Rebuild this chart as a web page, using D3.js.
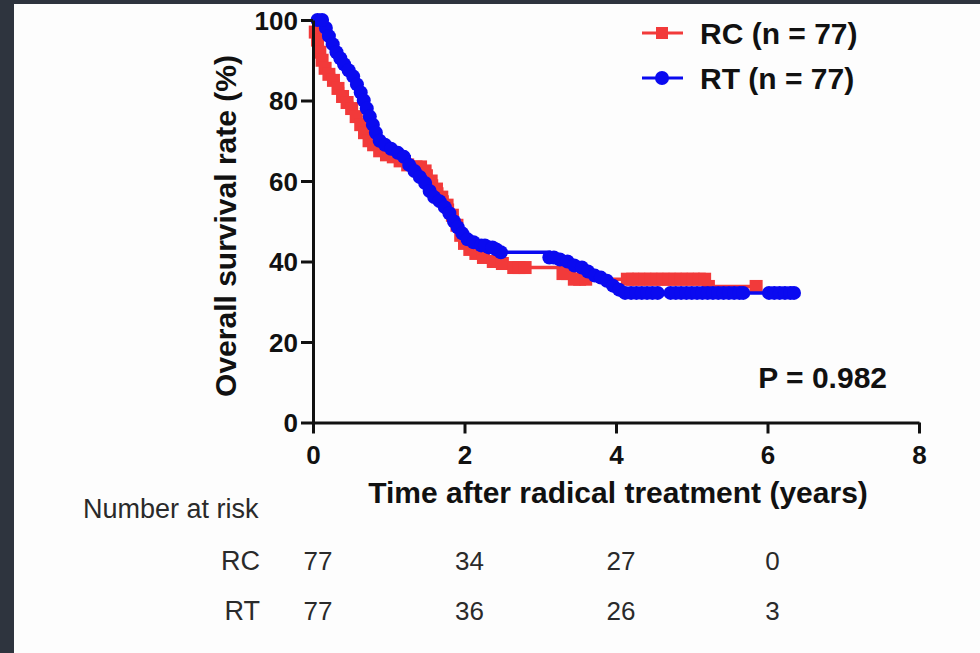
<!DOCTYPE html>
<html>
<head>
<meta charset="utf-8">
<script src="https://cdn.jsdelivr.net/npm/d3@7"></script>
<style>
  html, body { margin: 0; padding: 0; background: #2e343e; }
  svg { display: block; }
  .axis path, .axis line { stroke: #111; stroke-width: 3; }
  .axis text { font-family: 'Liberation Sans', Arial, sans-serif; font-weight: bold; font-size: 26px; fill: #111; }
</style>
</head>
<body>
<div class="chart"></div>
<script>
// Kaplan-Meier steps: [years, survival %]
const rcSteps = [
  [0, 100], [0.03, 97], [0.06, 95], [0.09, 92], [0.12, 90], [0.16, 88], [0.21, 86.5],
  [0.27, 85], [0.33, 83], [0.39, 81], [0.45, 79.5], [0.51, 78], [0.57, 76], [0.63, 74],
  [0.68, 72], [0.74, 70], [0.8, 69], [0.88, 67.5], [0.97, 66.5], [1.06, 66], [1.15, 65],
  [1.25, 64], [1.36, 63.5], [1.48, 62.5], [1.56, 60], [1.63, 58], [1.7, 56], [1.77, 54],
  [1.84, 51.5], [1.9, 49], [1.95, 46.5], [2.0, 44.5], [2.07, 43], [2.15, 42], [2.25, 41],
  [2.38, 40], [2.5, 39.5], [2.65, 38.5], [3.3, 37], [3.45, 35.6], [5.22, 33.8]
];
const rcEnd = 5.85;
const rcCensor = [1.42, 2.72, 2.8, 3.36, 3.52, 3.6, 4.15, 4.22, 4.3, 4.38, 4.46, 4.54, 4.62, 4.7,
  4.78, 4.86, 4.94, 5.02, 5.1, 5.17, 5.85];

const rtSteps = [
  [0, 100], [0.17, 98], [0.21, 96], [0.26, 94], [0.31, 92], [0.36, 90.5], [0.41, 89],
  [0.47, 87.5], [0.53, 86], [0.58, 84], [0.63, 82], [0.67, 80], [0.71, 78], [0.75, 76],
  [0.79, 74], [0.83, 72], [0.88, 70], [0.95, 69], [1.03, 68], [1.12, 67], [1.2, 66],
  [1.27, 64], [1.34, 62.5], [1.41, 61], [1.48, 59.5], [1.54, 57.5], [1.6, 56], [1.67, 55],
  [1.74, 53.5], [1.8, 52], [1.86, 50], [1.91, 48.5], [1.97, 47], [2.04, 45.5], [2.12, 44.8],
  [2.22, 44], [2.32, 43.5], [2.42, 43], [2.48, 42.3], [3.12, 41], [3.26, 40.5], [3.36, 40],
  [3.45, 39], [3.55, 38.5], [3.63, 37.5], [3.72, 36.5], [3.8, 36], [3.88, 35.2], [3.96, 34],
  [4.04, 33], [4.12, 32.2]
];
const rtEnd = 6.37;
const rtCensor = [0.06, 0.12, 2.27, 2.37, 3.18, 4.2, 4.27, 4.34, 4.41, 4.48, 4.55, 4.72, 4.79,
  4.86, 4.93, 5.0, 5.07, 5.14, 5.21, 5.28, 5.35, 5.42, 5.49, 5.56, 5.63, 5.68, 6.02, 6.09,
  6.16, 6.23, 6.3, 6.35];

const yTicks = [0, 20, 40, 60, 80, 100];
const xTicks = [0, 2, 4, 6, 8];
const riskTimes = [0, 2, 4, 6];
const riskRows = [
  { name: 'RC', values: [77, 34, 27, 0] },
  { name: 'RT', values: [77, 36, 26, 3] }
];
const legendLabels = ['RC (n = 77)', 'RT (n = 77)'];
const pText = 'P = 0.982';

const W = 980, H = 653;
const margin = { top: 20, right: 61, bottom: 230.5, left: 313 };
const width = W - margin.left - margin.right,
      height = H - margin.top - margin.bottom;

const red = '#f23a3a', blue = '#0a0af0';
const font = "'Liberation Sans', Arial, sans-serif";

const svg = d3.select('.chart').append('svg')
  .attr('width', W).attr('height', H);

svg.append('rect').attr('width', W).attr('height', H).attr('fill', '#2e343e');
svg.append('rect').attr('x', 14).attr('y', 4).attr('width', W - 14).attr('height', H - 4).attr('fill', '#fdfdfd');

const g = svg.append('g').attr('transform', 'translate(' + margin.left + ',' + margin.top + ')');

const x = d3.scaleLinear().domain([0, 8]).range([0, width]);
const y = d3.scaleLinear().domain([0, 100]).range([height, 0]);

// step value at time t
function survAt(steps, t) {
  let v = steps[0][1];
  steps.forEach(function (s) { if (s[0] <= t) v = s[1]; });
  return v;
}

const line = d3.line()
  .x(function (d) { return x(d[0]); })
  .y(function (d) { return y(d[1]); })
  .curve(d3.curveStepAfter);

function drawCurve(steps, end, censor, color, shape) {
  const pts = steps.concat([[end, steps[steps.length - 1][1]]]);
  g.append('path')
    .datum(pts)
    .attr('fill', 'none')
    .attr('stroke', color)
    .attr('stroke-width', 3.5)
    .attr('d', line);

  const marks = steps.slice(1).map(function (d) { return [d[0], d[1]]; })
    .concat(censor.map(function (t) { return [t, survAt(steps, t)]; }));

  if (shape === 'square') {
    g.selectAll(null).data(marks).enter().append('rect')
      .attr('x', function (d) { return x(d[0]) - 6.5; })
      .attr('y', function (d) { return y(d[1]) - 6.5; })
      .attr('width', 13).attr('height', 13)
      .attr('fill', color);
  } else {
    g.selectAll(null).data(marks).enter().append('circle')
      .attr('cx', function (d) { return x(d[0]); })
      .attr('cy', function (d) { return y(d[1]); })
      .attr('r', 7)
      .attr('fill', color);
  }
}

drawCurve(rcSteps, rcEnd, rcCensor, red, 'square');
drawCurve(rtSteps, rtEnd, rtCensor, blue, 'circle');

// axes
g.append('g')
  .attr('class', 'axis')
  .attr('transform', 'translate(0,' + height + ')')
  .call(d3.axisBottom(x).tickValues(xTicks).tickSize(11).tickSizeOuter(0).tickPadding(12));

g.append('g')
  .attr('class', 'axis')
  .call(d3.axisLeft(y).tickValues(yTicks).tickSize(12).tickSizeOuter(0).tickPadding(3))
  .selectAll('text').attr('dy', '0.36em');

// axis titles
g.append('text')
  .attr('text-anchor', 'middle')
  .attr('transform', 'translate(' + (236 - margin.left) + ',' + (226 - margin.top) + ')rotate(-90)')
  .style('font-family', font).style('font-weight', 'bold').style('font-size', '30px')
  .style('fill', '#111')
  .text('Overall survival rate (%)');

g.append('text')
  .attr('text-anchor', 'middle')
  .attr('x', 618 - margin.left)
  .attr('y', 503 - margin.top)
  .style('font-family', font).style('font-weight', 'bold').style('font-size', '30px')
  .style('fill', '#111')
  .text('Time after radical treatment (years)');

// p value
g.append('text')
  .attr('text-anchor', 'end')
  .attr('x', 887 - margin.left)
  .attr('y', 388 - margin.top)
  .style('font-family', font).style('font-weight', 'bold').style('font-size', '30px')
  .style('fill', '#111')
  .text(pText);

// legend
const legend = svg.append('g').attr('transform', 'translate(642,33)');
[red, blue].forEach(function (c, i) {
  const row = legend.append('g').attr('transform', 'translate(0,' + (i * 45) + ')');
  row.append('line').attr('x1', 0).attr('x2', 41).attr('stroke', c).attr('stroke-width', 3);
  if (i === 0) {
    row.append('rect').attr('x', 14).attr('y', -6).attr('width', 12).attr('height', 12).attr('fill', c);
  } else {
    row.append('circle').attr('cx', 20).attr('r', 7).attr('fill', c);
  }
  row.append('text')
    .attr('x', 58).attr('y', 11)
    .style('font-family', font).style('font-weight', 'bold').style('font-size', '30px')
    .style('fill', '#111')
    .text(legendLabels[i]);
});

// number at risk table
svg.append('text')
  .attr('x', 83).attr('y', 518)
  .style('font-family', font).style('font-size', '27px').style('fill', '#2a2a2a')
  .text('Number at risk');

riskRows.forEach(function (r, i) {
  const by = 570 + i * 50;
  svg.append('text')
    .attr('x', 260).attr('y', by)
    .attr('text-anchor', 'end')
    .style('font-family', font).style('font-size', '27px').style('fill', '#2a2a2a')
    .text(r.name);
  svg.selectAll(null).data(r.values).enter().append('text')
    .attr('x', function (d, j) { return margin.left + x(riskTimes[j]) + 5; })
    .attr('y', by)
    .attr('text-anchor', 'middle')
    .style('font-family', font).style('font-size', '26px').style('fill', '#2a2a2a')
    .text(function (d) { return d; });
});
</script>
</body>
</html>
